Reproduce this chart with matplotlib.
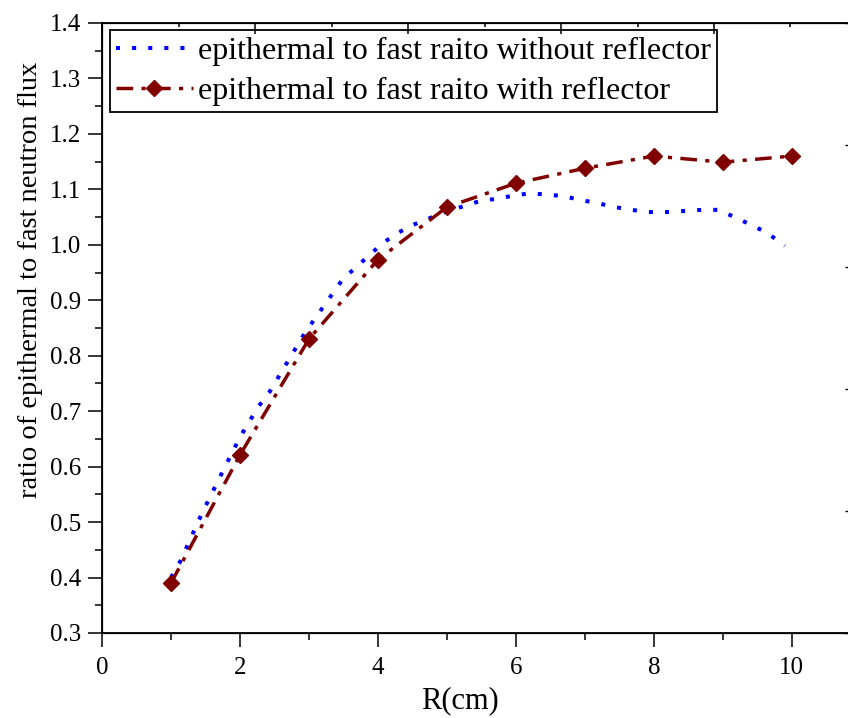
import matplotlib
matplotlib.use("Agg")
import matplotlib.pyplot as plt
from matplotlib.ticker import MultipleLocator, FixedLocator, NullFormatter

plt.rcParams['font.family'] = ['Liberation Serif', 'DejaVu Serif']

# data
r_without = [1.0, 1.13, 1.45, 1.78, 2.0, 2.26, 2.43, 2.94, 3.49, 4.07, 4.28, 4.51,
             4.97, 5.43, 5.94, 6.2, 6.68, 6.93, 7.19, 7.43, 7.68, 7.91, 8.19,
             8.7, 8.93, 9.17, 9.39, 9.62, 9.83, 9.9]
ratio_without = [0.40, 0.428, 0.516, 0.599, 0.653, 0.707, 0.735, 0.841, 0.938, 1.003,
                 1.021, 1.036, 1.059, 1.077, 1.088, 1.093, 1.088, 1.081, 1.075,
                 1.068, 1.063, 1.059, 1.059, 1.063, 1.063, 1.05, 1.037, 1.023,
                 1.005, 0.998]

r_with = [1, 2, 3, 4, 5, 6, 7, 8, 9, 10]
ratio_with = [0.39, 0.621, 0.830, 0.973, 1.068, 1.111, 1.138, 1.160, 1.149, 1.160]

label_without = 'epithermal to fast raito without reflector'
label_with = 'epithermal to fast raito with reflector'

fig = plt.figure(figsize=(8.48, 7.18), dpi=100)
ax = fig.add_axes([0.1203, 0.1184, 0.9021, 0.8496])

ax.plot(r_without, ratio_without, color='#0000ff', lw=2.9, ls=(0, (1, 3)),
        label=label_without)
ax.plot(r_with, ratio_with, color='#800000', lw=2.5, ls=(0, (4.8, 2.4, 1.2, 2.4)),
        marker='D', ms=8.5, label=label_with)

ax.set_xlim(0, 11.09)
ax.set_ylim(0.3, 1.4)
ax.xaxis.set_major_locator(MultipleLocator(2))
ax.xaxis.set_minor_locator(MultipleLocator(1))
ax.yaxis.set_major_locator(MultipleLocator(0.1))
ax.yaxis.set_minor_locator(MultipleLocator(0.05))
ax.yaxis.set_major_formatter(plt.FormatStrFormatter('%.1f'))

ax.tick_params(which='major', direction='out', length=10, width=1.1, labelsize=18)
ax.tick_params(which='minor', direction='out', length=5, width=1.1)
ax.tick_params(axis='x', pad=7)
ax.tick_params(axis='y', pad=5)
for s in ax.spines.values():
    s.set_linewidth(1.3)

# top and right axes carry their own unlabelled ticks
top = ax.twiny()
top.set_xlim(0, 10)
top.xaxis.set_major_locator(MultipleLocator(2))
top.xaxis.set_minor_locator(MultipleLocator(1))
top.xaxis.set_major_formatter(NullFormatter())
top.tick_params(which='major', direction='in', length=8, width=1.1)
top.tick_params(which='minor', direction='in', length=3, width=1.1)
top.yaxis.set_visible(False)

right = ax.twinx()
right.set_ylim(0, 5)
right.yaxis.set_major_locator(FixedLocator([0, 1, 2, 3, 4, 5]))
right.yaxis.set_major_formatter(NullFormatter())
right.tick_params(which='major', direction='in', length=16, width=1.0)
right.xaxis.set_visible(False)

ax.set_xlabel('R(cm)', fontsize=22)
ax.set_ylabel('ratio of epithermal to fast neutron flux', fontsize=20.5)
ax.xaxis.set_label_coords(0.468, -0.088)
ax.yaxis.set_label_coords(-0.094, 0.579)
ax.yaxis.label.set_va('center')

leg = ax.legend(loc='upper left', bbox_to_anchor=(0.01, 0.988), fontsize=23,
                fancybox=False, edgecolor='black', framealpha=1, handlelength=2.4,
                borderpad=0.2, labelspacing=0.33, handletextpad=0.15, borderaxespad=0)
leg.get_frame().set_linewidth(1.3)

fig.savefig('out.png', dpi=100)
